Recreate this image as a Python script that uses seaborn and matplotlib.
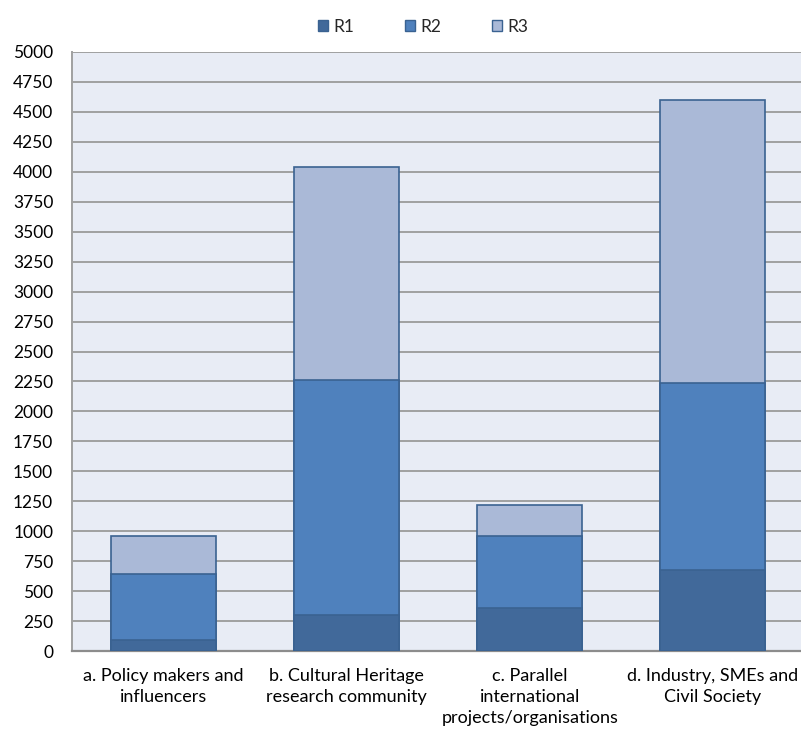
import matplotlib
matplotlib.use("Agg")
import matplotlib.pyplot as plt
from matplotlib.patches import Patch
import seaborn as sns
import pandas as pd
import numpy as np

categories = [
    "a. Policy makers and\ninfluencers",
    "b. Cultural Heritage\nresearch community",
    "c. Parallel\ninternational\nprojects/organisations",
    "d. Industry, SMEs and\nCivil Society",
]
r1 = [90, 300, 355, 680]
r2 = [550, 1960, 605, 1560]
r3 = [320, 1780, 255, 2360]
series_names = ["R1", "R2", "R3"]
y_ticks = list(range(0, 5001, 250))

colors = {"R1": "#41699A", "R2": "#4F81BD", "R3": "#AAB9D7"}
edge = "#3A6291"

sns.set_theme(style="white")
plt.rcParams["font.family"] = ["Lato", "DejaVu Sans"]

df = pd.DataFrame({"category": categories, "R1": r1, "R2": r2, "R3": r3})
df["top_r1"] = df["R1"]
df["top_r2"] = df["R1"] + df["R2"]
df["top_r3"] = df["R1"] + df["R2"] + df["R3"]

fig = plt.figure(figsize=(8.01, 7.29), dpi=100)
ax = fig.add_axes([72 / 801, 1 - 651 / 729, (804.5 - 72) / 801, (651 - 52) / 729])
ax.set_facecolor("#E8ECF5")

# stacked bars: draw cumulative totals from the tallest layer down
for col, name in [("top_r3", "R3"), ("top_r2", "R2"), ("top_r1", "R1")]:
    sns.barplot(data=df, x="category", y=col, color=colors[name], saturation=1,
                width=0.574, edgecolor=edge, linewidth=1.2, ax=ax, zorder=3)

ax.set_ylim(0, 5000)
ax.set_xlim(-0.5, 3.5)
ax.set_yticks(y_ticks)
ax.set_yticklabels([str(t) for t in y_ticks])
ax.yaxis.grid(True, color="#A0A0A0", linewidth=1.4, zorder=0)
ax.set_axisbelow(True)
ax.set_xlabel("")
ax.set_ylabel("")
ax.tick_params(axis="both", length=0, labelsize=13, colors="#000000")
ax.tick_params(axis="y", labelsize=12.5, pad=13.5)
ax.tick_params(axis="x", pad=12)
for s in ["top", "right"]:
    ax.spines[s].set_visible(False)
ax.spines["left"].set_color("#A0A0A0")
ax.spines["left"].set_linewidth(1.4)
ax.spines["bottom"].set_color("#8C8C8C")
ax.spines["bottom"].set_linewidth(1.6)
for lbl in ax.get_xticklabels():
    lbl.set_linespacing(1.4)

handles = [Patch(facecolor=colors[n], edgecolor=edge, linewidth=1.0, label=n) for n in series_names]
fig.legend(handles=handles, loc="center", bbox_to_anchor=(423 / 801, 1 - 27 / 729),
           ncol=3, frameon=False, fontsize=12.5, handlelength=0.6, handleheight=0.6,
           handletextpad=0.3, columnspacing=2.9)

fig.savefig("out.png", dpi=100, facecolor="white")
